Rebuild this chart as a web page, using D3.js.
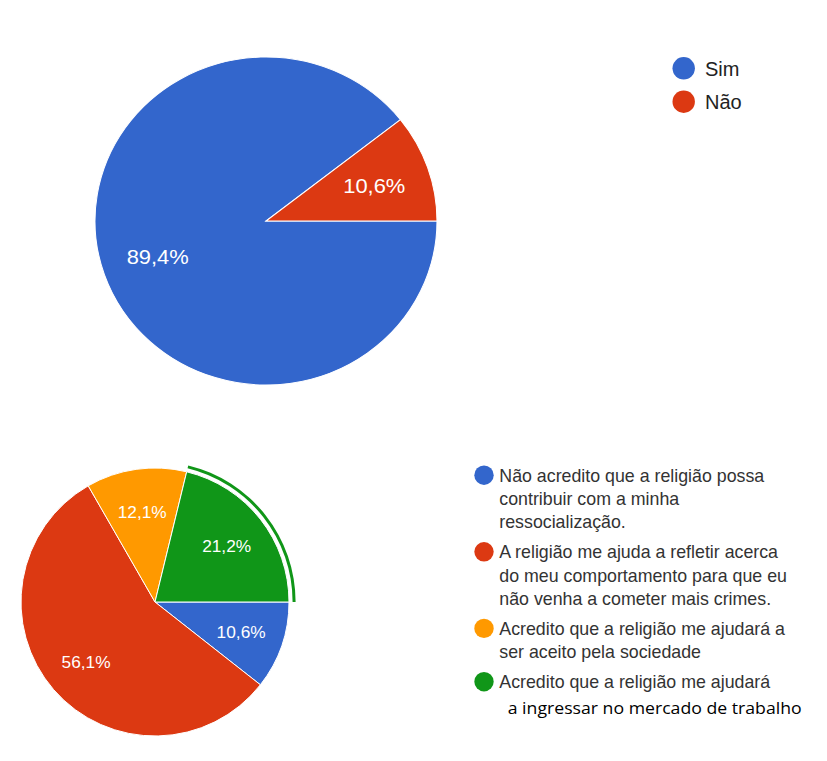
<!DOCTYPE html>
<html><head><meta charset="utf-8">
<script src="https://cdn.jsdelivr.net/npm/d3@7"></script>
<style>html,body{margin:0;padding:0;background:#fff}</style>
</head><body>
<svg id="c" width="827" height="761"></svg>
<script>
// Top chart data
const topCategories = ["Sim", "Não"];
const topValues = [89.4, 10.6];
const topColors = ["#3366cc", "#dc3912"];

// Bottom chart data
const bottomCategories = [
  ["Não acredito que a religião possa", "contribuir com a minha", "ressocialização."],
  ["A religião me ajuda a refletir acerca", "do meu comportamento para que eu", "não venha a cometer mais crimes."],
  ["Acredito que a religião me ajudará a", "ser aceito pela sociedade"],
  ["Acredito que a religião me ajudará"]
];
const bottomExtraLine = "a ingressar no mercado de trabalho";
const bottomValues = [10.6, 56.1, 12.1, 21.2];
const bottomColors = ["#3366cc", "#dc3912", "#ff9900", "#109618"];
const highlightedIndex = 3;

const fmt = v => d3.format(".1f")(v).replace(".", ",") + "%";
const svg = d3.select("#c");
const FONT = "'Liberation Sans', Arial, sans-serif";

const pie = d3.pie().sort(null).value(d => d).startAngle(Math.PI/2).endAngle(Math.PI/2 + 2*Math.PI);

// ---------- Top pie ----------
{
  const r = 164;
  const g = svg.append("g").attr("transform", `translate(266,221) scale(${171/164},1)`);
  const arc = d3.arc().innerRadius(0).outerRadius(r);
  const lab = d3.arc().innerRadius(r*0.67).outerRadius(r*0.67);
  const arcs = pie(topValues);
  g.selectAll("path").data(arcs).join("path")
    .attr("d", arc).attr("fill", (d,i) => topColors[i])
    .attr("stroke", "#fff").attr("stroke-width", 1);
  g.selectAll("text").data(arcs).join("text")
    .attr("transform", d => `translate(${lab.centroid(d)})`)
    .attr("text-anchor", "middle").attr("dy", "0.36em")
    .attr("font-family", FONT).attr("font-size", 21).attr("fill", "#fff")
    .text(d => fmt(d.data));

  const lg = svg.append("g");
  topCategories.forEach((c, i) => {
    const y = 68.3 + i * 33.4;
    lg.append("circle").attr("cx", 683.7).attr("cy", y).attr("r", 11.2).attr("fill", topColors[i]);
    lg.append("text").attr("x", 705).attr("y", y + 7.5)
      .attr("font-family", FONT).attr("font-size", 20).attr("fill", "#222").text(c);
  });
}

// ---------- Bottom pie ----------
{
  const r = 134;
  const g = svg.append("g").attr("transform", "translate(155,602)");
  const arc = d3.arc().innerRadius(0).outerRadius(r);
  const lab = d3.arc().innerRadius(r*0.68).outerRadius(r*0.68);
  const arcs = pie(bottomValues);
  g.selectAll("path.s").data(arcs).join("path").attr("class", "s")
    .attr("d", arc).attr("fill", (d,i) => bottomColors[i])
    .attr("stroke", "#fff").attr("stroke-width", 1);
  const h = arcs[highlightedIndex];
  g.append("path")
    .attr("d", d3.arc().innerRadius(r + 3.6).outerRadius(r + 6.6)({startAngle: h.startAngle, endAngle: h.endAngle}))
    .attr("fill", bottomColors[highlightedIndex]);
  g.selectAll("text").data(arcs).join("text")
    .attr("transform", d => `translate(${lab.centroid(d)})`)
    .attr("text-anchor", "middle").attr("dy", "0.36em")
    .attr("font-family", FONT).attr("font-size", 17.3).attr("fill", "#fff")
    .text(d => fmt(d.data));

  const lg = svg.append("g");
  const lineH = 23.3, itemGap = 30;
  let y = 481.7;
  bottomCategories.forEach((lines, i) => {
    lg.append("circle").attr("cx", 484).attr("cy", y - 6.5).attr("r", 9.7).attr("fill", bottomColors[i]);
    lines.forEach((t, j) => {
      lg.append("text").attr("x", 499.3).attr("y", y + j*lineH)
        .attr("font-family", FONT).attr("font-size", 17.8).attr("fill", "#333").text(t);
    });
    y += (lines.length - 1) * lineH + itemGap;
  });
  lg.append("text").attr("x", 507.7).attr("y", 714)
    .attr("font-family", "'Open Sans', 'Noto Sans', sans-serif").attr("font-size", 15.5).attr("fill", "#000")
    .attr("textLength", 294).attr("lengthAdjust", "spacingAndGlyphs")
    .text(bottomExtraLine);
}
</script>
</body></html>
